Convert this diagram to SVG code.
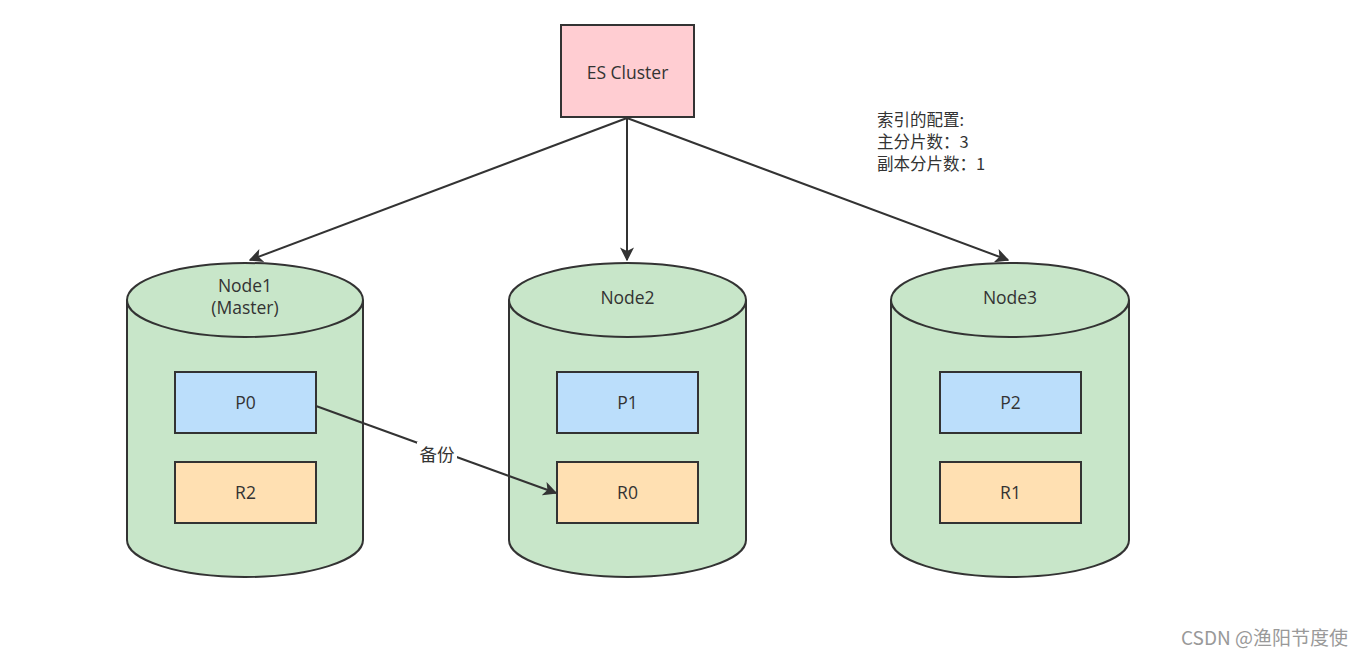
<svg xmlns="http://www.w3.org/2000/svg" width="1363" height="659" viewBox="0 0 1363 659">
<defs>
<style>
.t{font-family:"Open Sans","Noto Sans","Noto Sans CJK SC",sans-serif;font-size:17.5px;fill:#333;text-anchor:middle;dominant-baseline:central}
.cyl{fill:#c8e6c9;stroke:#333;stroke-width:2}
.p{fill:#bbdefb;stroke:#333;stroke-width:2}
.r{fill:#ffe0b2;stroke:#333;stroke-width:2}
.e{stroke:#333;stroke-width:2;fill:none}
.n{font-family:"Noto Sans CJK SC","Noto Sans",sans-serif;font-size:16.5px;fill:#333}
</style>
<marker id="ah2" viewBox="0 0 10 10" refX="9" refY="5" markerWidth="14" markerHeight="14" markerUnits="userSpaceOnUse" orient="auto"><path d="M0,0 L10,5 L0,10 L2.5,5 Z" fill="#333"/></marker>
</defs>
<rect width="1363" height="659" fill="#fff"/>
<g id="cluster">
<rect x="561" y="25" width="133" height="92" fill="#ffcdd2" stroke="#333" stroke-width="2"/>
<text class="t" x="627.5" y="72">ES Cluster</text>
</g>
<g id="node1">
<path class="cyl" d="M127,300 L127,540 A118,37 0 0 0 363,540 L363,300"/>
<ellipse class="cyl" cx="245" cy="300" rx="118" ry="37"/>
<text class="t" x="245" y="285">Node1</text>
<text class="t" x="245" y="307">(Master)</text>
</g>
<g id="node2">
<path class="cyl" d="M509,300 L509,540 A118.5,37 0 0 0 746,540 L746,300"/>
<ellipse class="cyl" cx="627.5" cy="300" rx="118.5" ry="37"/>
<text class="t" x="627.5" y="297">Node2</text>
</g>
<g id="node3">
<path class="cyl" d="M891,300 L891,540 A119,37 0 0 0 1129,540 L1129,300"/>
<ellipse class="cyl" cx="1010" cy="300" rx="119" ry="37"/>
<text class="t" x="1010" y="297">Node3</text>
</g>
<g id="p0"><rect class="p" x="175" y="372" width="141" height="61"/><text class="t" x="245.5" y="402">P0</text></g>
<g id="r2"><rect class="r" x="175" y="462" width="141" height="61"/><text class="t" x="245.5" y="492">R2</text></g>
<g id="p1"><rect class="p" x="557" y="372" width="141" height="61"/><text class="t" x="627.5" y="402">P1</text></g>
<g id="r0"><rect class="r" x="557" y="462" width="141" height="61"/><text class="t" x="627.5" y="492">R0</text></g>
<g id="p2"><rect class="p" x="940" y="372" width="141" height="61"/><text class="t" x="1010.5" y="402">P2</text></g>
<g id="r1"><rect class="r" x="940" y="462" width="141" height="61"/><text class="t" x="1010.5" y="492">R1</text></g>
<g id="connectors">
<line class="e" x1="627" y1="118" x2="250" y2="260" marker-end="url(#ah2)"/>
<line class="e" x1="627" y1="118" x2="627" y2="260" marker-end="url(#ah2)"/>
<line class="e" x1="627" y1="118" x2="1008" y2="260" marker-end="url(#ah2)"/>
<line class="e" x1="316" y1="406" x2="556" y2="493" marker-end="url(#ah2)"/>
<rect x="417" y="442" width="40" height="22" fill="#fff"/>
<text class="t" x="437" y="453" style="font-family:'Noto Sans CJK SC',sans-serif;font-size:17.5px">备份</text>
</g>
<g id="note">
<text class="n" x="877" y="126"><tspan x="877" y="126">索引的配置:</tspan><tspan x="877" y="148">主分片数：3</tspan><tspan x="877" y="170">副本分片数：1</tspan></text>
</g>
<text x="1348" y="645" style="font-family:'Noto Sans CJK SC',sans-serif;font-size:19px;fill:#999;text-anchor:end">CSDN @渔阳节度使</text>
</svg>
